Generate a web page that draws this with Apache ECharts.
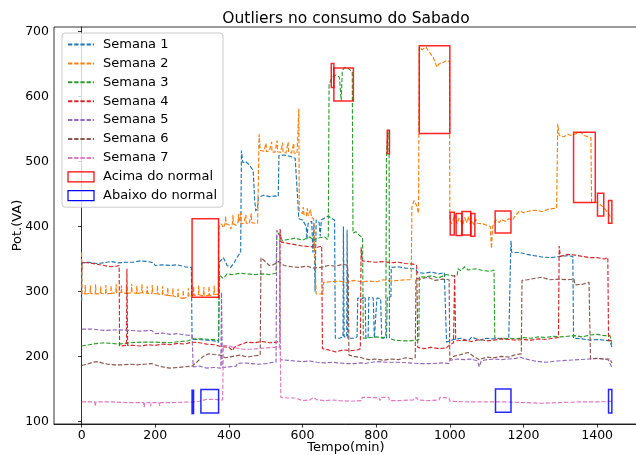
<!DOCTYPE html>
<html>
<head>
<meta charset="utf-8">
<script src="https://cdn.jsdelivr.net/npm/echarts@6/dist/echarts.min.js"></script>
<style>html,body{margin:0;padding:0;background:#fff;}#c{width:636px;height:455px;}</style>
</head>
<body>
<div id="c"></div>
<script>
const seriesNames = ['Semana 1','Semana 2','Semana 3','Semana 4','Semana 5','Semana 6','Semana 7'];
const xTicks = [0,200,400,600,800,1000,1200,1400];
const yTicks = [100,200,300,400,500,600,700];

const semana1 = [[0,285],[1,344],[20,345],[40,343],[60,344],[80,346],[100,344],[120,345],[140,345],[160,347],[180,346],[195,344],[200,340],[220,341],[240,340],[260,341],[280,338],[298,337],[300,226],[320,226],[340,225],[360,224],[372,222],[374,345],[385,352],[395,340],[405,337],[415,345],[425,355],[432,360],[434,517],[438,498],[445,500],[455,495],[466,486],[470,440],[473,424],[478,430],[480,445],[495,448],[510,446],[525,447],[534,446],[536,509],[550,510],[565,508],[580,505],[585,507],[590,412],[600,410],[610,400],[612,380],[615,405],[625,408],[628,360],[631,405],[634,300],[637,410],[645,406],[648,385],[651,410],[660,413],[670,416],[680,412],[687,410],[689,228],[700,228],[710,230],[711,400],[713,230],[720,230],[721,395],[723,228],[740,228],[748,230],[750,290],[760,288],[770,292],[772,228],[778,228],[780,291],[792,290],[795,228],[800,228],[802,290],[812,289],[815,228],[828,228],[830,291],[840,292],[841,337],[860,338],[880,336],[900,335],[908,334],[912,329],[930,328],[950,330],[970,327],[985,329],[990,327],[991,222],[1000,224],[1010,226],[1030,228],[1050,224],[1060,230],[1080,225],[1100,228],[1120,227],[1140,228],[1160,227],[1165,228],[1166,378],[1168,360],[1190,360],[1210,357],[1230,355],[1250,353],[1275,352],[1300,354],[1320,355],[1334,354],[1336,228],[1360,227],[1380,225],[1400,226],[1420,225],[1435,224],[1440,214]];

const semana2 = [[0,360],[1,296],[9,296],[10,310],[11,296],[23,297],[24,309],[25,297],[37,296],[38,311],[39,296],[51,297],[52,308],[53,297],[65,296],[66,310],[67,296],[79,297],[80,309],[81,297],[93,298],[94,311],[95,298],[107,298],[108,309],[109,298],[121,297],[122,310],[123,297],[135,298],[136,312],[137,298],[149,297],[150,309],[151,297],[163,298],[164,311],[165,298],[177,297],[178,308],[179,297],[191,297],[192,310],[193,297],[205,296],[206,309],[207,296],[219,295],[220,308],[221,295],[233,294],[234,306],[235,294],[247,293],[248,305],[249,293],[261,291],[262,304],[263,291],[275,289],[276,302],[277,289],[289,292],[290,305],[291,292],[303,294],[304,308],[305,294],[317,295],[318,309],[319,295],[331,293],[332,307],[333,293],[345,294],[346,308],[347,294],[359,295],[360,309],[361,295],[371,296],[373,400],[380,404],[385,398],[390,405],[391,416],[392,404],[400,403],[405,396],[410,406],[411,418],[412,404],[420,402],[425,407],[426,419],[427,406],[431,403],[432,421],[433,404],[440,405],[445,406],[446,418],[447,405],[455,404],[460,406],[461,420],[462,406],[470,405],[478,405],[480,406],[482,542],[485,517],[495,516],[500,515],[501,528],[502,515],[510,516],[515,515],[516,530],[517,515],[525,514],[530,515],[531,532],[532,515],[540,514],[545,515],[546,529],[547,514],[555,513],[560,514],[561,530],[562,514],[570,513],[575,514],[576,528],[577,513],[585,512],[589,514],[590,581],[591,424],[600,420],[602,430],[604,418],[610,416],[613,428],[615,416],[620,418],[622,426],[624,414],[630,412],[635,410],[637,296],[655,296],[657,314],[680,315],[700,316],[720,314],[740,317],[760,315],[780,316],[800,315],[820,318],[840,316],[860,317],[880,318],[895,318],[897,430],[903,440],[910,432],[915,420],[917,676],[925,672],[935,676],[945,668],[955,660],[965,645],[970,650],[980,652],[990,655],[999,654],[1000,410],[1005,404],[1010,412],[1015,418],[1020,404],[1025,413],[1030,408],[1035,402],[1040,414],[1045,406],[1050,415],[1055,404],[1060,409],[1065,403],[1070,411],[1075,405],[1080,408],[1090,404],[1100,402],[1110,400],[1113,366],[1116,400],[1125,410],[1135,406],[1140,411],[1150,408],[1160,412],[1170,410],[1180,418],[1190,424],[1200,421],[1210,423],[1230,425],[1250,423],[1270,427],[1290,428],[1293,558],[1297,540],[1310,538],[1320,542],[1330,540],[1345,543],[1355,545],[1365,540],[1375,538],[1383,537],[1385,437],[1400,437],[1408,434],[1420,428],[1430,420],[1440,412]];

const semana3 = [[0,216],[1,219],[30,219],[60,221],[100,219],[130,221],[160,222],[200,222],[240,221],[270,223],[290,224],[300,227],[330,227],[360,226],[372,224],[374,325],[385,320],[395,327],[410,326],[430,328],[450,327],[470,326],[490,327],[510,326],[528,328],[530,385],[535,390],[545,378],[560,380],[580,382],[600,379],[620,384],[630,378],[640,382],[660,384],[668,380],[670,386],[672,619],[680,629],[690,633],[700,630],[704,628],[705,594],[708,640],[715,645],[725,643],[735,638],[737,390],[745,392],[755,386],[763,383],[765,228],[780,229],[800,230],[820,229],[826,230],[828,512],[831,540],[835,548],[836,228],[850,225],[870,224],[890,224],[910,225],[916,226],[917,323],[930,322],[950,324],[970,321],[990,326],[1010,324],[1020,325],[1022,335],[1030,332],[1040,338],[1050,333],[1070,335],[1090,332],[1110,331],[1120,333],[1122,229],[1140,227],[1160,228],[1180,227],[1200,229],[1220,228],[1240,230],[1260,229],[1280,231],[1300,230],[1320,231],[1340,232],[1360,230],[1380,233],[1400,234],[1420,232],[1435,232],[1440,218]];

const semana4 = [[0,330],[1,345],[20,344],[40,342],[60,340],[80,338],[95,339],[102,340],[103,216],[122,217],[123,335],[125,217],[140,217],[160,216],[180,218],[200,217],[220,219],[240,218],[260,220],[280,219],[300,222],[320,221],[340,219],[360,218],[380,215],[400,214],[410,209],[415,214],[430,218],[450,222],[470,221],[490,223],[510,221],[530,222],[538,223],[539,396],[542,376],[560,374],[580,372],[600,370],[620,369],[640,368],[652,370],[654,212],[670,210],[690,207],[710,210],[730,209],[750,210],[757,212],[759,368],[762,347],[780,346],[800,345],[820,346],[840,344],[860,345],[880,343],[900,342],[910,340],[913,214],[930,212],[950,214],[970,212],[990,213],[1000,218],[1010,221],[1013,325],[1016,224],[1020,222],[1040,225],[1060,223],[1080,226],[1100,224],[1120,225],[1140,227],[1160,226],[1180,225],[1200,226],[1220,225],[1240,227],[1260,226],[1280,228],[1295,229],[1297,370],[1300,354],[1320,357],[1340,356],[1360,354],[1380,352],[1400,352],[1420,350],[1429,352],[1431,225],[1440,224]];

const semana5 = [[0,242],[1,241],[30,242],[60,240],[100,241],[130,240],[160,239],[190,240],[200,235],[220,236],[240,234],[260,235],[280,233],[300,232],[303,184],[320,185],[340,182],[360,183],[378,182],[380,299],[382,183],[400,184],[420,185],[422,189],[440,190],[460,189],[480,188],[500,189],[520,191],[528,191],[530,394],[538,385],[540,195],[560,194],[580,193],[600,192],[620,193],[640,191],[660,190],[680,191],[700,190],[720,189],[740,189],[760,190],[767,189],[770,192],[800,192],[830,191],[860,191],[890,190],[920,189],[950,189],[980,190],[998,189],[1000,194],[1020,196],[1040,195],[1060,196],[1075,193],[1080,184],[1085,193],[1100,195],[1120,196],[1140,195],[1160,196],[1180,197],[1190,199],[1200,197],[1230,193],[1260,191],[1290,193],[1320,194],[1350,195],[1380,196],[1400,197],[1415,196],[1430,195],[1440,183]];

const semana6 = [[0,186],[15,188],[30,191],[45,192],[55,190],[70,188],[90,187],[110,187],[130,188],[150,187],[170,188],[190,189],[205,186],[220,184],[240,182],[260,183],[280,184],[300,185],[310,190],[320,195],[330,200],[345,204],[360,203],[376,202],[390,198],[410,200],[430,202],[450,199],[470,201],[485,202],[487,352],[495,348],[510,340],[520,341],[535,346],[550,340],[570,338],[590,337],[610,339],[630,336],[650,337],[670,340],[690,339],[710,342],[722,340],[724,325],[726,202],[740,200],[760,198],[780,195],[800,196],[820,194],[840,196],[860,195],[880,198],[900,196],[906,198],[908,320],[920,319],[940,322],[960,317],[980,319],[998,318],[1000,195],[1010,200],[1030,203],[1050,206],[1065,200],[1080,195],[1100,199],[1120,198],[1140,200],[1160,199],[1180,203],[1194,204],[1196,317],[1210,318],[1230,320],[1250,322],[1270,318],[1296,319],[1300,320],[1320,318],[1337,319],[1340,310],[1360,311],[1378,314],[1382,196],[1400,197],[1420,196],[1435,196],[1440,190]];

const semana7 = [[0,130],[36,130],[37,123],[39,130],[80,130],[120,129],[168,129],[170,122],[172,129],[185,129],[187,123],[189,129],[210,129],[212,124],[214,129],[250,129],[300,130],[320,131],[340,134],[360,134],[376,133],[383,133],[385,217],[400,216],[420,213],[440,211],[460,211],[480,212],[500,213],[520,214],[537,214],[539,248],[541,137],[560,136],[580,136],[600,132],[620,133],[630,137],[640,133],[660,132],[680,133],[700,132],[730,131],[760,132],[762,137],[780,137],[808,136],[810,132],[814,137],[834,137],[836,132],[860,132],[900,133],[909,137],[915,133],[940,132],[971,133],[973,137],[998,136],[1000,131],[1050,130],[1100,130],[1150,130],[1200,129],[1250,128],[1300,129],[1350,130],[1400,130],[1440,131]];

// [x0, x1, y0, y1]
const acimaRects = [[300,372,291,412],[678,685,614,651],[685,738,593,644],[830,836,512,548],[917,1000,543,678],[1001,1012,387,422],[1017,1033,386,420],[1033,1057,387,423],[1057,1068,385,420],[1123,1166,390,424],[1336,1395,437,545],[1401,1418,416,451],[1431,1440,405,440]];
const abaixoRects = [[300,304,112,148],[324,372,113,149],[1124,1166,114,150],[1431,1440,113,149]];

const colors = ['#1f77b4','#ff7f0e','#2ca02c','#d62728','#9467bd','#8c564b','#e377c2'];
const allData = [semana1,semana2,semana3,semana4,semana5,semana6,semana7];
const FONT = 'DejaVu Sans';

const chart = echarts.init(document.getElementById('c'), null, {renderer:'canvas'});

function rectRenderer(stroke){
  return function(params, api){
    const p0 = api.coord([api.value(0), api.value(3)]);
    const p1 = api.coord([api.value(1), api.value(2)]);
    return {type:'rect', shape:{x:p0[0], y:p0[1], width:p1[0]-p0[0], height:p1[1]-p0[1]},
      style:{fill:'none', stroke:stroke, lineWidth:1.5}};
  };
}

const series = allData.map((d,i)=>({
  name: seriesNames[i], type:'line', data:d, symbol:'none', showSymbol:false,
  lineStyle:{color:colors[i], width:1.15, type:[4.3,1.9]}, itemStyle:{color:colors[i]},
  z: 2, silent:true
}));
series.push({name:'Acima do normal', type:'custom', renderItem:rectRenderer('rgba(255,0,0,0.85)'), data:acimaRects,
  encode:{x:[0,1], y:[2,3]}, itemStyle:{color:'rgba(0,0,0,0)', borderColor:'#ff0000', borderWidth:1.2}, z:3, silent:true});
series.push({name:'Abaixo do normal', type:'custom', renderItem:rectRenderer('rgba(0,0,255,0.85)'), data:abaixoRects,
  encode:{x:[0,1], y:[2,3]}, itemStyle:{color:'rgba(0,0,0,0)', borderColor:'#0000ff', borderWidth:1.2}, z:3, silent:true});

const legendData = seriesNames.map(n=>({name:n, itemStyle:{opacity:0}}));
legendData.push({name:'Acima do normal', icon:'rect', itemStyle:{color:'rgba(0,0,0,0)', borderColor:'#ff0000', borderWidth:1.2, opacity:1}});
legendData.push({name:'Abaixo do normal', icon:'rect', itemStyle:{color:'rgba(0,0,0,0)', borderColor:'#0000ff', borderWidth:1.2, opacity:1}});

const fmt = v => String(v);

chart.setOption({
  animation:false,
  backgroundColor:'#fff',
  title:{text:'Outliers no consumo do Sabado', left:346, top:11, textAlign:'center', padding:0,
    textStyle:{fontFamily:FONT, fontSize:15.5, fontWeight:'normal', color:'#000'}},
  grid:{left:54, top:27, width:584, height:397, show:true, borderColor:'#000', borderWidth:0.8,
    containLabel:false, outerBoundsMode:'none'},
  legend:{orient:'vertical', left:62, top:33, padding:[5,6,5,5], itemWidth:26, itemHeight:10, itemGap:5.9,
    backgroundColor:'rgba(255,255,255,0.8)', borderColor:'#cccccc', borderWidth:1, borderRadius:3,
    selectedMode:false, data:legendData,
    textStyle:{fontFamily:FONT, fontSize:13, color:'#000', padding:[0,0,0,4]}},
  xAxis:{type:'value', min:-75, max:1511, name:'Tempo(min)', nameLocation:'middle', nameGap:17, nameMoveOverlap:false,
    nameTextStyle:{fontFamily:FONT, fontSize:13, color:'#000'},
    axisLine:{show:true, lineStyle:{color:'#000', width:0.8}},
    axisTick:{show:true, inside:false, length:3.5, lineStyle:{color:'#000', width:0.8}, customValues:xTicks},
    axisLabel:{fontFamily:FONT, fontSize:12.5, color:'#000', margin:5, customValues:xTicks, formatter:fmt},
    splitLine:{show:false}},
  yAxis:{type:'value', min:96, max:707, name:'Pot.(VA)', nameLocation:'middle', nameGap:30, nameRotate:90, nameMoveOverlap:false,
    nameTextStyle:{fontFamily:FONT, fontSize:13, color:'#000'},
    axisLine:{show:true, lineStyle:{color:'#000', width:0.8}},
    axisTick:{show:true, inside:false, length:3.5, lineStyle:{color:'#000', width:0.8}, customValues:yTicks},
    axisLabel:{fontFamily:FONT, fontSize:12.5, color:'#000', margin:5, customValues:yTicks, formatter:fmt},
    splitLine:{show:false}},
  series:series
});
</script>
</body>
</html>
